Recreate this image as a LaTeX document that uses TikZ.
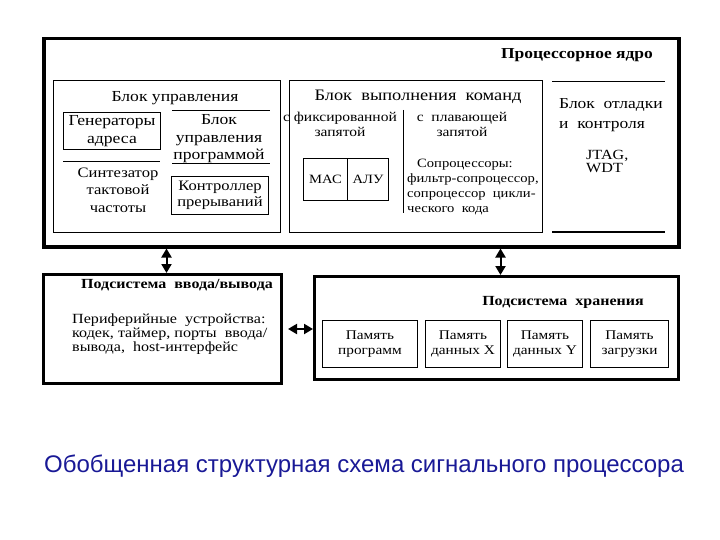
\documentclass[tikz,border=0pt]{standalone}
\usepackage{fontspec}
\setmainfont{Liberation Serif}[FakeStretch=1.15]
\newfontfamily\capfont{Liberation Sans}
\usetikzlibrary{arrows.meta}
\definecolor{capblue}{RGB}{25,25,150}
\begin{document}
\begin{tikzpicture}[x=1pt,y=-1pt,
  thickbox/.style={draw, line width=3pt, inner sep=0pt, anchor=north west},
  thinbox/.style={draw, line width=1pt, inner sep=0pt, anchor=north west},
  rule/.style={line width=1pt},
  txt/.style={font=\fontsize{15.3}{17.5}\selectfont, align=center, inner sep=0pt},
  small/.style={font=\fontsize{12.7}{15}\selectfont, align=left, inner sep=0pt},
  mem/.style={font=\fontsize{13.3}{15.5}\selectfont, align=center, inner sep=0pt},
  head/.style={font=\fontsize{13.9}{17}\selectfont\bfseries, inner sep=0pt},
  dbl/.style={{Triangle[length=9pt,width=10pt]}-{Triangle[length=9pt,width=10pt]}, line width=2pt}
]
\useasboundingbox (0,0) rectangle (720,540);
% processor core
\node[thickbox, line width=3.5pt, minimum width=635pt, minimum height=208pt] (proc) at (42,37) {};
\node[head, font=\fontsize{15.2}{17}\selectfont\bfseries] (proctitle) at (577,55) {Процессорное ядро};
% control block
\node[thinbox, minimum width=227pt, minimum height=152pt] (ctrl) at (53,80) {};
\node[txt] (ctrltitle) at (175,98) {Блок управления};
\node[thinbox, minimum width=97pt, minimum height=37pt, txt] (gen) at (63,112) {Генераторы\\адреса};
\coordinate (l1a) at (63,162); \coordinate (l1b) at (160,162);
\draw[rule] (l1a) -- (l1b);
\coordinate (l2a) at (172,111); \coordinate (l2b) at (270,111);
\draw[rule] (l2a) -- (l2b);
\coordinate (l3a) at (172,164); \coordinate (l3b) at (270,164);
\draw[rule] (l3a) -- (l3b);
\node[txt] (bup) at (219,139) {Блок\\управления\\программой};
\node[txt, font=\fontsize{14.4}{17.5}\selectfont] (synth) at (118,190) {Синтезатор\\тактовой\\частоты};
\node[thinbox, minimum width=97pt, minimum height=38pt, txt, font=\fontsize{14.4}{16}\selectfont] (intc) at (171,176) {Контроллер\\прерываний};
% execution block
\node[thinbox, minimum width=253pt, minimum height=152pt] (exec) at (289,80) {};
\node[txt, font=\fontsize{16}{17.5}\selectfont] (exectitle) at (418,97) {Блок\ \ выполнения\ \ команд};
\coordinate (dva) at (403,110); \coordinate (dvb) at (403,213);
\draw[rule] (dva) -- (dvb);
\node[small, align=center, font=\fontsize{13.5}{15}\selectfont] (fix) at (340,124) {с фиксированной\\запятой};
\node[small, align=center, font=\fontsize{13.5}{15}\selectfont] (flt) at (462,124) {с\ \ плавающей\\запятой};
\node[thinbox, minimum width=44pt, minimum height=42pt] (mac) at (303,158) {};
\node[thinbox, minimum width=41pt, minimum height=42pt] (alu) at (347,158) {};
\node[small] at (mac.center) {МАС};
\node[small] at (alu.center) {АЛУ};
\node[small, anchor=west] (copr) at (407,187) {\hspace*{10pt}Сопроцессоры:\\фильтр-сопроцессор,\\сопроцессор\ \ цикли-\\ческого\ \ кода};
% debug block
\coordinate (d1a) at (552,82); \coordinate (d1b) at (665,82);
\draw[rule] (d1a) -- (d1b);
\coordinate (d2a) at (552,232); \coordinate (d2b) at (665,232);
\draw[rule] (d2a) -- (d2b);
\node[txt, align=left, anchor=west, font=\fontsize{15.2}{20}\selectfont] (dbg) at (559,115) {Блок\ \ отладки\\и\ \ контроля};
\node[small, anchor=west, font=\fontsize{14}{13}\selectfont] (jtag) at (586,161) {JTAG,\\WDT};
% I/O subsystem
\node[thickbox, minimum width=238pt, minimum height=109pt] (io) at (42,273) {};
\node[head] (iotitle) at (177,285) {Подсистема\ \ ввода/вывода};
\node[small, anchor=west, font=\fontsize{14}{14}\selectfont] (periph) at (72,334) {Периферийные\ \ устройства:\\кодек, таймер, порты\ \ ввода/\\вывода,\ \ host-интерфейс};
% storage subsystem
\node[thickbox, minimum width=364pt, minimum height=103pt] (store) at (313,275) {};
\node[head] (sttitle) at (563,302) {Подсистема\ \ хранения};
\node[thinbox, minimum width=95pt, minimum height=47pt, mem] (m1) at (322,320) {Память\\программ};
\node[thinbox, minimum width=75pt, minimum height=47pt, mem] (m2) at (425,320) {Память\\данных X};
\node[thinbox, minimum width=75pt, minimum height=47pt, mem] (m3) at (507,320) {Память\\данных Y};
\node[thinbox, minimum width=78pt, minimum height=47pt, mem] (m4) at (590,320) {Память\\загрузки};
% connectors
\draw[dbl] ([xshift=4pt]io.north) -- ([xshift=4pt]io.north |- proc.south);
\draw[dbl] ([xshift=4pt]store.north) -- ([xshift=4pt]store.north |- proc.south);
\draw[dbl, shorten <=5pt] (io.east) -- (store.west |- io.east);
% caption
\node[font=\capfont\fontsize{24}{28}\selectfont, text=capblue, inner sep=0pt] (cap) at (364,466) {Обобщенная структурная схема сигнального процессора};
\end{tikzpicture}
\end{document}
